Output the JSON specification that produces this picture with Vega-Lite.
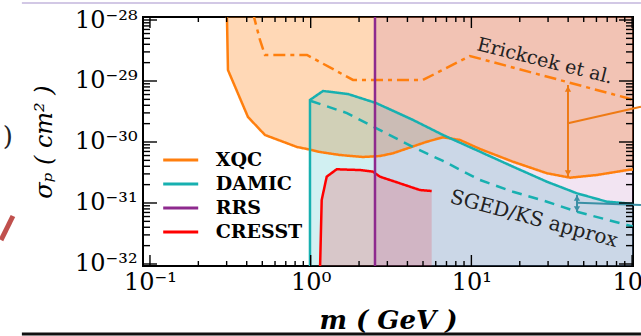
{
  "$schema": "https://vega.github.io/schema/vega-lite/v6.json",
  "width": 490,
  "height": 249,
  "autosize": {"type": "none"},
  "padding": {"left": 143, "top": 17, "right": 8, "bottom": 70},
  "background": "white",
  "config": {
    "view": {"stroke": "black", "strokeWidth": 2},
    "axis": {"grid": false, "domain": false, "labelFont": "DejaVu Serif", "titleFont": "DejaVu Serif", "labelColor": "black", "titleColor": "black", "tickColor": "black", "labelFlush": false, "labelOverlap": false, "labelBound": false}
  },
  "datasets": {
    "xticks": [
      {"v": 0.1, "kind": "major"}, {"v": 1, "kind": "major"}, {"v": 10, "kind": "major"}, {"v": 100, "kind": "major"},
      {"v": 0.2, "kind": "minor"}, {"v": 0.3, "kind": "minor"}, {"v": 0.4, "kind": "minor"}, {"v": 0.5, "kind": "minor"}, {"v": 0.6, "kind": "minor"}, {"v": 0.7, "kind": "minor"}, {"v": 0.8, "kind": "minor"}, {"v": 0.9, "kind": "minor"},
      {"v": 2, "kind": "minor"}, {"v": 3, "kind": "minor"}, {"v": 4, "kind": "minor"}, {"v": 5, "kind": "minor"}, {"v": 6, "kind": "minor"}, {"v": 7, "kind": "minor"}, {"v": 8, "kind": "minor"}, {"v": 9, "kind": "minor"},
      {"v": 20, "kind": "minor"}, {"v": 30, "kind": "minor"}, {"v": 40, "kind": "minor"}, {"v": 50, "kind": "minor"}, {"v": 60, "kind": "minor"}, {"v": 70, "kind": "minor"}, {"v": 80, "kind": "minor"}, {"v": 90, "kind": "minor"}
    ],
    "yticks": [
      {"v": 1e-32, "kind": "major"}, {"v": 1e-31, "kind": "major"}, {"v": 1e-30, "kind": "major"}, {"v": 1e-29, "kind": "major"}, {"v": 1e-28, "kind": "major"},
      {"v": 2e-32, "kind": "minor"}, {"v": 3e-32, "kind": "minor"}, {"v": 4e-32, "kind": "minor"}, {"v": 5e-32, "kind": "minor"}, {"v": 6e-32, "kind": "minor"}, {"v": 7e-32, "kind": "minor"}, {"v": 8e-32, "kind": "minor"}, {"v": 9e-32, "kind": "minor"},
      {"v": 2e-31, "kind": "minor"}, {"v": 3e-31, "kind": "minor"}, {"v": 4e-31, "kind": "minor"}, {"v": 5e-31, "kind": "minor"}, {"v": 6e-31, "kind": "minor"}, {"v": 7e-31, "kind": "minor"}, {"v": 8e-31, "kind": "minor"}, {"v": 9e-31, "kind": "minor"},
      {"v": 2e-30, "kind": "minor"}, {"v": 3e-30, "kind": "minor"}, {"v": 4e-30, "kind": "minor"}, {"v": 5e-30, "kind": "minor"}, {"v": 6e-30, "kind": "minor"}, {"v": 7e-30, "kind": "minor"}, {"v": 8e-30, "kind": "minor"}, {"v": 9e-30, "kind": "minor"},
      {"v": 2e-29, "kind": "minor"}, {"v": 3e-29, "kind": "minor"}, {"v": 4e-29, "kind": "minor"}, {"v": 5e-29, "kind": "minor"}, {"v": 6e-29, "kind": "minor"}, {"v": 7e-29, "kind": "minor"}, {"v": 8e-29, "kind": "minor"}, {"v": 9e-29, "kind": "minor"}
    ],
    "curves": [
      {"curve": "XQC", "exp": "XQC", "i": 0, "m": 0.301, "s": 1.3e-28},
      {"curve": "XQC", "exp": "XQC", "i": 1, "m": 0.3057, "s": 1.514e-29},
      {"curve": "XQC", "exp": "XQC", "i": 2, "m": 0.4072, "s": 2.57e-30},
      {"curve": "XQC", "exp": "XQC", "i": 3, "m": 0.5195, "s": 1.303e-30},
      {"curve": "XQC", "exp": "XQC", "i": 4, "m": 0.8218, "s": 8.28e-31},
      {"curve": "XQC", "exp": "XQC", "i": 5, "m": 0.9484, "s": 7.68e-31},
      {"curve": "XQC", "exp": "XQC", "i": 6, "m": 1.143, "s": 6.85e-31},
      {"curve": "XQC", "exp": "XQC", "i": 7, "m": 1.52, "s": 6.12e-31},
      {"curve": "XQC", "exp": "XQC", "i": 8, "m": 2.116, "s": 5.68e-31},
      {"curve": "XQC", "exp": "XQC", "i": 9, "m": 2.699, "s": 5.89e-31},
      {"curve": "XQC", "exp": "XQC", "i": 10, "m": 3.252, "s": 6.53e-31},
      {"curve": "XQC", "exp": "XQC", "i": 11, "m": 4.15, "s": 8.13e-31},
      {"curve": "XQC", "exp": "XQC", "i": 12, "m": 5.293, "s": 1.012e-30},
      {"curve": "XQC", "exp": "XQC", "i": 13, "m": 6.658, "s": 1.194e-30},
      {"curve": "XQC", "exp": "XQC", "i": 14, "m": 8.492, "s": 1.079e-30},
      {"curve": "XQC", "exp": "XQC", "i": 15, "m": 11.31, "s": 7.68e-31},
      {"curve": "XQC", "exp": "XQC", "i": 16, "m": 18.15, "s": 4.75e-31},
      {"curve": "XQC", "exp": "XQC", "i": 17, "m": 29.54, "s": 3.07e-31},
      {"curve": "XQC", "exp": "XQC", "i": 18, "m": 41.08, "s": 2.6e-31},
      {"curve": "XQC", "exp": "XQC", "i": 19, "m": 60.47, "s": 2.88e-31},
      {"curve": "XQC", "exp": "XQC", "i": 20, "m": 94.3, "s": 3.48e-31},
      {"curve": "XQC", "exp": "XQC", "i": 21, "m": 101.3, "s": 3.55e-31},
      {"curve": "Erickcek", "exp": "XQC", "i": 0, "m": 0.4375, "s": 1.3e-28},
      {"curve": "Erickcek", "exp": "XQC", "i": 1, "m": 0.4836, "s": 4.7e-29},
      {"curve": "Erickcek", "exp": "XQC", "i": 2, "m": 0.5195, "s": 2.67e-29},
      {"curve": "Erickcek", "exp": "XQC", "i": 3, "m": 0.9484, "s": 2.67e-29},
      {"curve": "Erickcek", "exp": "XQC", "i": 4, "m": 1.833, "s": 1.04e-29},
      {"curve": "Erickcek", "exp": "XQC", "i": 5, "m": 4.998, "s": 1.04e-29},
      {"curve": "Erickcek", "exp": "XQC", "i": 6, "m": 9.8, "s": 2.57e-29},
      {"curve": "Erickcek", "exp": "XQC", "i": 7, "m": 39.35, "s": 9.64e-30},
      {"curve": "Erickcek", "exp": "XQC", "i": 8, "m": 92.9, "s": 5.26e-30},
      {"curve": "Erickcek", "exp": "XQC", "i": 9, "m": 101.3, "s": 4.89e-30},
      {"curve": "DAMIC", "exp": "DAMIC", "i": 0, "m": 0.99, "s": 8e-33},
      {"curve": "DAMIC", "exp": "DAMIC", "i": 1, "m": 0.99, "s": 4.89e-30},
      {"curve": "DAMIC", "exp": "DAMIC", "i": 2, "m": 1.193, "s": 6.86e-30},
      {"curve": "DAMIC", "exp": "DAMIC", "i": 3, "m": 1.707, "s": 6.12e-30},
      {"curve": "DAMIC", "exp": "DAMIC", "i": 4, "m": 2.549, "s": 4.36e-30},
      {"curve": "DAMIC", "exp": "DAMIC", "i": 5, "m": 4.331, "s": 2.3e-30},
      {"curve": "DAMIC", "exp": "DAMIC", "i": 6, "m": 6.658, "s": 1.303e-30},
      {"curve": "DAMIC", "exp": "DAMIC", "i": 7, "m": 11.31, "s": 6.93e-31},
      {"curve": "DAMIC", "exp": "DAMIC", "i": 8, "m": 18.15, "s": 3.94e-31},
      {"curve": "DAMIC", "exp": "DAMIC", "i": 9, "m": 29.54, "s": 2.23e-31},
      {"curve": "DAMIC", "exp": "DAMIC", "i": 10, "m": 45.4, "s": 1.44e-31},
      {"curve": "DAMIC", "exp": "DAMIC", "i": 11, "m": 69.8, "s": 1.05e-31},
      {"curve": "DAMIC", "exp": "DAMIC", "i": 12, "m": 92.9, "s": 9.88e-32},
      {"curve": "DAMIC", "exp": "DAMIC", "i": 13, "m": 101.3, "s": 9.64e-32},
      {"curve": "SGED", "exp": "DAMIC", "i": 0, "m": 1.004, "s": 4.7e-30},
      {"curve": "SGED", "exp": "DAMIC", "i": 1, "m": 1.682, "s": 2.98e-30},
      {"curve": "SGED", "exp": "DAMIC", "i": 2, "m": 2.699, "s": 1.57e-30},
      {"curve": "SGED", "exp": "DAMIC", "i": 3, "m": 4.331, "s": 8.28e-31},
      {"curve": "SGED", "exp": "DAMIC", "i": 4, "m": 6.658, "s": 4.89e-31},
      {"curve": "SGED", "exp": "DAMIC", "i": 5, "m": 11.31, "s": 2.38e-31},
      {"curve": "SGED", "exp": "DAMIC", "i": 6, "m": 18.15, "s": 1.53e-31},
      {"curve": "SGED", "exp": "DAMIC", "i": 7, "m": 29.54, "s": 1.05e-31},
      {"curve": "SGED", "exp": "DAMIC", "i": 8, "m": 45.4, "s": 7.19e-32},
      {"curve": "SGED", "exp": "DAMIC", "i": 9, "m": 92.9, "s": 4.36e-32},
      {"curve": "SGED", "exp": "DAMIC", "i": 10, "m": 101.3, "s": 4.12e-32},
      {"curve": "CRESST", "exp": "CRESST", "i": 0, "m": 1.143, "s": 8e-33},
      {"curve": "CRESST", "exp": "CRESST", "i": 1, "m": 1.171, "s": 1.12e-31},
      {"curve": "CRESST", "exp": "CRESST", "i": 2, "m": 1.258, "s": 2.7e-31},
      {"curve": "CRESST", "exp": "CRESST", "i": 3, "m": 1.451, "s": 3.57e-31},
      {"curve": "CRESST", "exp": "CRESST", "i": 4, "m": 2.027, "s": 3.47e-31},
      {"curve": "CRESST", "exp": "CRESST", "i": 5, "m": 2.442, "s": 3.26e-31},
      {"curve": "CRESST", "exp": "CRESST", "i": 6, "m": 2.699, "s": 2.7e-31},
      {"curve": "CRESST", "exp": "CRESST", "i": 7, "m": 3.595, "s": 2.1e-31},
      {"curve": "CRESST", "exp": "CRESST", "i": 8, "m": 4.787, "s": 1.63e-31},
      {"curve": "CRESST", "exp": "CRESST", "i": 9, "m": 5.662, "s": 1.57e-31},
      {"curve": "RRS", "exp": "RRS", "i": 0, "m": 2.513, "s": 8e-33},
      {"curve": "RRS", "exp": "RRS", "i": 1, "m": 2.513, "s": 1.3e-28}
    ]
  },
  "layer": [
    {
      "data": {"name": "curves"},
      "transform": [{"filter": "datum.curve === 'XQC'"}],
      "mark": {"type": "area", "color": "#ff7f0e", "opacity": 0.3, "clip": true},
      "encoding": {
        "x": {"field": "m", "type": "quantitative", "scale": {"type": "log", "domain": [0.0905, 101.3], "nice": false},
          "axis": {"orient": "bottom", "values": [0.1, 1, 10, 100], "labelExpr": "datum.value < 0.5 ? '10⁻¹' : datum.value < 5 ? '10⁰' : datum.value < 50 ? '10¹' : '10²'", "labelFontSize": 24, "labelPadding": 4, "ticks": false, "tickSize": 0, "title": "m ( GeV )", "titleFontSize": 26, "titleFontStyle": "italic", "titleFontWeight": "bold", "titleY": 62, "titleBaseline": "alphabetic"}},
        "y": {"field": "s", "type": "quantitative", "scale": {"type": "log", "domain": [9.27e-33, 1.12e-28], "nice": false},
          "axis": {"orient": "left", "values": [1e-32, 1e-31, 1e-30, 1e-29, 1e-28], "labelExpr": "datum.value < 5e-32 ? '10⁻³²' : datum.value < 5e-31 ? '10⁻³¹' : datum.value < 5e-30 ? '10⁻³⁰' : datum.value < 5e-29 ? '10⁻²⁹' : '10⁻²⁸'", "labelFontSize": 24, "labelPadding": 6, "ticks": false, "tickSize": 0, "title": "σₚ ( cm² )", "titleFontSize": 24, "titleFontStyle": "italic", "titleFontWeight": "normal", "titleX": -99, "titleBaseline": "middle", "titleAlign": "center"}},
        "y2": {"datum": 1.12e-28}
      }
    },
    {
      "data": {"name": "curves"},
      "transform": [{"filter": "datum.curve === 'DAMIC' && datum.i > 0"}],
      "mark": {"type": "area", "color": "#17b4c0", "opacity": 0.2, "clip": true},
      "encoding": {
        "x": {"field": "m", "type": "quantitative", "scale": {"type": "log", "domain": [0.0905, 101.3], "nice": false}, "axis": null},
        "y": {"field": "s", "type": "quantitative", "scale": {"type": "log", "domain": [9.27e-33, 1.12e-28], "nice": false}, "axis": null},
        "y2": {"datum": 9.27e-33}
      }
    },
    {
      "data": {"name": "curves"},
      "transform": [{"filter": "datum.curve === 'CRESST'"}],
      "mark": {"type": "area", "color": "#ff0000", "opacity": 0.17, "clip": true},
      "encoding": {
        "x": {"field": "m", "type": "quantitative", "scale": {"type": "log", "domain": [0.0905, 101.3], "nice": false}, "axis": null},
        "y": {"field": "s", "type": "quantitative", "scale": {"type": "log", "domain": [9.27e-33, 1.12e-28], "nice": false}, "axis": null},
        "y2": {"datum": 9.27e-33}
      }
    },
    {
      "data": {"values": [{"experiment": "RRS", "m": 2.513}]},
      "mark": {"type": "rect", "color": "#ad54ad", "opacity": 0.16},
      "encoding": {
        "x": {"field": "m", "type": "quantitative", "scale": {"type": "log", "domain": [0.0905, 101.3], "nice": false}, "axis": null},
        "x2": {"datum": 101.3}
      }
    },
    {
      "data": {"name": "curves"},
      "mark": {"type": "line", "strokeWidth": 2.5, "clip": true},
      "encoding": {
        "x": {"field": "m", "type": "quantitative", "scale": {"type": "log", "domain": [0.0905, 101.3], "nice": false}, "axis": null},
        "y": {"field": "s", "type": "quantitative", "scale": {"type": "log", "domain": [9.27e-33, 1.12e-28], "nice": false}, "axis": null},
        "color": {"field": "exp", "type": "nominal",
          "scale": {"domain": ["XQC", "DAMIC", "RRS", "CRESST"], "range": ["#ff7f0e", "#17b0b0", "#8e2a8e", "#ff0000"]},
          "legend": {"title": null, "orient": "none", "legendX": 23.7, "legendY": 129, "symbolType": "M-1.4,0H1.4", "symbolSize": 625, "symbolStrokeWidth": 3, "labelFont": "DejaVu Serif", "labelFontSize": 19, "labelFontWeight": "bold", "labelColor": "black", "labelOffset": 21, "rowPadding": 0, "padding": 0}},
        "strokeDash": {"field": "curve", "type": "nominal",
          "scale": {"domain": ["XQC", "Erickcek", "DAMIC", "SGED", "CRESST", "RRS"], "range": [[1, 0], [12, 5, 4, 5], [1, 0], [10, 7], [1, 0], [1, 0]]}, "legend": null},
        "detail": {"field": "curve"},
        "order": {"field": "i", "type": "quantitative"}
      }
    },
    {
      "data": {"values": [
        {"m": 39.9, "s": 8.59e-30, "m2": 39.9, "s2": 2.67e-31},
        {"m": 39.9, "s": 2.03e-30, "m2": 113.5, "s2": 3.79e-30}
      ]},
      "mark": {"type": "rule", "color": "#ee7a14", "strokeWidth": 2, "clip": false},
      "encoding": {
        "x": {"field": "m", "type": "quantitative", "scale": {"type": "log", "domain": [0.0905, 101.3], "nice": false}, "axis": null},
        "y": {"field": "s", "type": "quantitative", "scale": {"type": "log", "domain": [9.27e-33, 1.12e-28], "nice": false}, "axis": null},
        "x2": {"field": "m2"},
        "y2": {"field": "s2"}
      }
    },
    {
      "data": {"values": [
        {"m": 45.4, "s": 1.35e-31, "m2": 45.4, "s2": 7.11e-32},
        {"m": 46.0, "s": 1.01e-31, "m2": 113.5, "s2": 9.27e-32}
      ]},
      "mark": {"type": "rule", "color": "#3a8fa5", "strokeWidth": 2, "clip": false},
      "encoding": {
        "x": {"field": "m", "type": "quantitative", "scale": {"type": "log", "domain": [0.0905, 101.3], "nice": false}, "axis": null},
        "y": {"field": "s", "type": "quantitative", "scale": {"type": "log", "domain": [9.27e-33, 1.12e-28], "nice": false}, "axis": null},
        "x2": {"field": "m2"},
        "y2": {"field": "s2"}
      }
    },
    {
      "data": {"values": [
        {"end": "top", "m": 39.9, "s": 7.4e-30},
        {"end": "bottom", "m": 39.9, "s": 3.1e-31}
      ]},
      "mark": {"type": "point", "filled": true, "color": "#ee7a14", "opacity": 1, "size": 40},
      "encoding": {
        "x": {"field": "m", "type": "quantitative", "scale": {"type": "log", "domain": [0.0905, 101.3], "nice": false}, "axis": null},
        "y": {"field": "s", "type": "quantitative", "scale": {"type": "log", "domain": [9.27e-33, 1.12e-28], "nice": false}, "axis": null},
        "shape": {"field": "end", "type": "nominal", "scale": {"domain": ["top", "bottom"], "range": ["triangle-up", "triangle-down"]}, "legend": null}
      }
    },
    {
      "data": {"values": [
        {"end": "top", "m": 45.4, "s": 1.21e-31},
        {"end": "bottom", "m": 45.4, "s": 7.98e-32}
      ]},
      "mark": {"type": "point", "filled": true, "color": "#3a8fa5", "opacity": 1, "size": 40},
      "encoding": {
        "x": {"field": "m", "type": "quantitative", "scale": {"type": "log", "domain": [0.0905, 101.3], "nice": false}, "axis": null},
        "y": {"field": "s", "type": "quantitative", "scale": {"type": "log", "domain": [9.27e-33, 1.12e-28], "nice": false}, "axis": null},
        "shape": {"field": "end", "type": "nominal", "scale": {"domain": ["top", "bottom"], "range": ["triangle-up", "triangle-down"]}, "legend": null}
      }
    },
    {
      "data": {"name": "xticks"},
      "mark": {"type": "tick", "orient": "vertical", "color": "black", "opacity": 1, "thickness": 1.4, "clip": true},
      "encoding": {
        "x": {"field": "v", "type": "quantitative", "scale": {"type": "log", "domain": [0.0905, 101.3], "nice": false}, "axis": null},
        "y": {"datum": 9.27e-33, "type": "quantitative", "scale": {"type": "log", "domain": [9.27e-33, 1.12e-28], "nice": false}, "axis": null},
        "size": {"field": "kind", "type": "ordinal", "scale": {"domain": ["major", "minor"], "range": [22, 10]}, "legend": null}
      }
    },
    {
      "data": {"name": "xticks"},
      "mark": {"type": "tick", "orient": "vertical", "color": "black", "opacity": 1, "thickness": 1.4, "clip": true},
      "encoding": {
        "x": {"field": "v", "type": "quantitative", "scale": {"type": "log", "domain": [0.0905, 101.3], "nice": false}, "axis": null},
        "y": {"datum": 1.12e-28, "type": "quantitative", "scale": {"type": "log", "domain": [9.27e-33, 1.12e-28], "nice": false}, "axis": null},
        "size": {"field": "kind", "type": "ordinal", "scale": {"domain": ["major", "minor"], "range": [22, 10]}, "legend": null}
      }
    },
    {
      "data": {"name": "yticks"},
      "mark": {"type": "tick", "orient": "horizontal", "color": "black", "opacity": 1, "thickness": 1.4, "clip": true},
      "encoding": {
        "y": {"field": "v", "type": "quantitative", "scale": {"type": "log", "domain": [9.27e-33, 1.12e-28], "nice": false}, "axis": null},
        "x": {"datum": 0.0905, "type": "quantitative", "scale": {"type": "log", "domain": [0.0905, 101.3], "nice": false}, "axis": null},
        "size": {"field": "kind", "type": "ordinal", "scale": {"domain": ["major", "minor"], "range": [28, 14]}, "legend": null}
      }
    },
    {
      "data": {"name": "yticks"},
      "mark": {"type": "tick", "orient": "horizontal", "color": "black", "opacity": 1, "thickness": 1.4, "clip": true},
      "encoding": {
        "y": {"field": "v", "type": "quantitative", "scale": {"type": "log", "domain": [9.27e-33, 1.12e-28], "nice": false}, "axis": null},
        "x": {"datum": 101.3, "type": "quantitative", "scale": {"type": "log", "domain": [0.0905, 101.3], "nice": false}, "axis": null},
        "size": {"field": "kind", "type": "ordinal", "scale": {"domain": ["major", "minor"], "range": [28, 14]}, "legend": null}
      }
    },
    {
      "data": {"values": [{"label": "Erickcek et al.", "m": 28.7, "s": 2.13e-29}]},
      "mark": {"type": "text", "font": "DejaVu Serif", "fontSize": 19, "angle": 14, "color": "#222222", "align": "center", "baseline": "middle"},
      "encoding": {
        "x": {"field": "m", "type": "quantitative", "scale": {"type": "log", "domain": [0.0905, 101.3], "nice": false}, "axis": null},
        "y": {"field": "s", "type": "quantitative", "scale": {"type": "log", "domain": [9.27e-33, 1.12e-28], "nice": false}, "axis": null},
        "text": {"field": "label"}
      }
    },
    {
      "data": {"values": [{"label": "SGED/KS approx", "m": 24.5, "s": 5.47e-32}]},
      "mark": {"type": "text", "font": "DejaVu Serif", "fontSize": 20, "angle": 15, "color": "#222222", "align": "center", "baseline": "middle"},
      "encoding": {
        "x": {"field": "m", "type": "quantitative", "scale": {"type": "log", "domain": [0.0905, 101.3], "nice": false}, "axis": null},
        "y": {"field": "s", "type": "quantitative", "scale": {"type": "log", "domain": [9.27e-33, 1.12e-28], "nice": false}, "axis": null},
        "text": {"field": "label"}
      }
    },
    {
      "data": {"values": [{"m": 0.01596, "s": 1.9e-28, "m2": 113.5}]},
      "mark": {"type": "rule", "color": "#c3b6dc", "strokeWidth": 1.5, "clip": false},
      "encoding": {
        "x": {"field": "m", "type": "quantitative", "scale": {"type": "log", "domain": [0.0905, 101.3], "nice": false}, "axis": null},
        "y": {"field": "s", "type": "quantitative", "scale": {"type": "log", "domain": [9.27e-33, 1.12e-28], "nice": false}, "axis": null},
        "x2": {"field": "m2"}
      }
    },
    {
      "data": {"values": [{"m": 0.01596, "s": 7.11e-34, "m2": 113.5}]},
      "mark": {"type": "rule", "color": "#111111", "strokeWidth": 3, "clip": false},
      "encoding": {
        "x": {"field": "m", "type": "quantitative", "scale": {"type": "log", "domain": [0.0905, 101.3], "nice": false}, "axis": null},
        "y": {"field": "s", "type": "quantitative", "scale": {"type": "log", "domain": [9.27e-33, 1.12e-28], "nice": false}, "axis": null},
        "x2": {"field": "m2"}
      }
    },
    {
      "data": {"values": [{"m": 0.01183, "s": 2.47e-32, "m2": 0.01404, "s2": 6.12e-32}]},
      "mark": {"type": "rule", "color": "#c0504d", "strokeWidth": 5, "clip": false},
      "encoding": {
        "x": {"field": "m", "type": "quantitative", "scale": {"type": "log", "domain": [0.0905, 101.3], "nice": false}, "axis": null},
        "y": {"field": "s", "type": "quantitative", "scale": {"type": "log", "domain": [9.27e-33, 1.12e-28], "nice": false}, "axis": null},
        "x2": {"field": "m2"},
        "y2": {"field": "s2"}
      }
    },
    {
      "data": {"values": [{"label": ")", "m": 0.01307, "s": 1.21e-30}]},
      "mark": {"type": "text", "font": "DejaVu Serif", "fontSize": 26, "color": "#222222", "align": "center", "baseline": "middle", "clip": false},
      "encoding": {
        "x": {"field": "m", "type": "quantitative", "scale": {"type": "log", "domain": [0.0905, 101.3], "nice": false}, "axis": null},
        "y": {"field": "s", "type": "quantitative", "scale": {"type": "log", "domain": [9.27e-33, 1.12e-28], "nice": false}, "axis": null},
        "text": {"field": "label"}
      }
    }
  ],
  "resolve": {
    "scale": {"x": "shared", "y": "shared", "color": "independent", "shape": "independent", "strokeDash": "independent", "size": "independent"},
    "axis": {"x": "independent", "y": "independent"}
  }
}
